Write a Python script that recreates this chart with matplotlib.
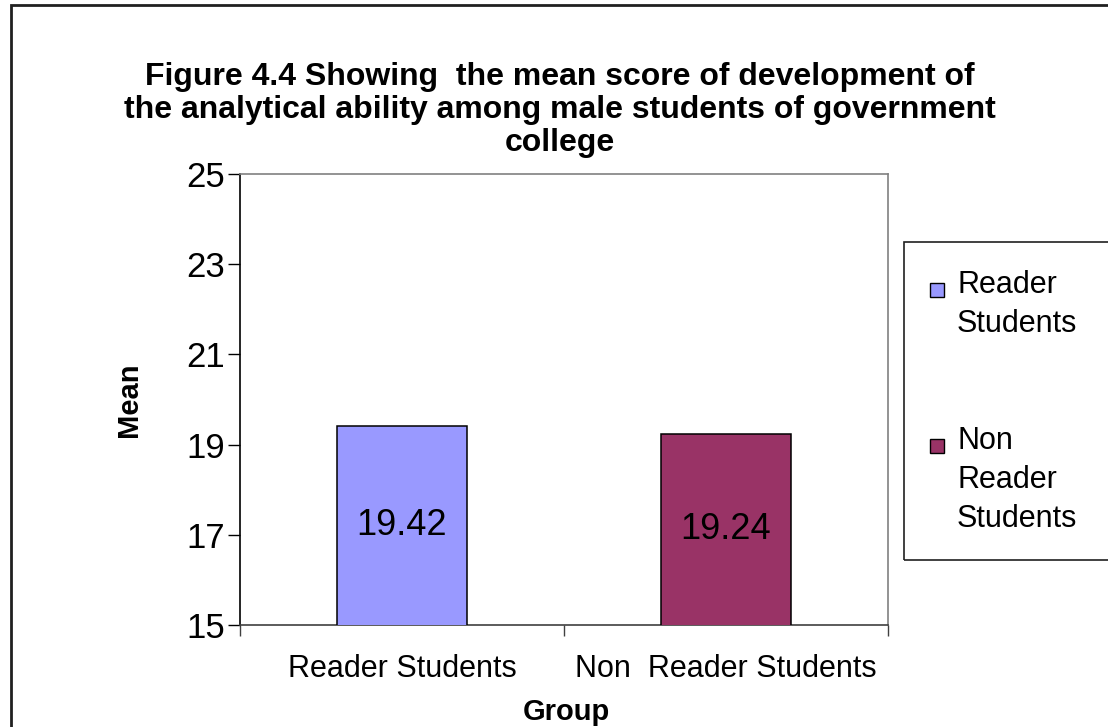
import matplotlib
matplotlib.use('Agg')
import matplotlib.pyplot as plt
from matplotlib.patches import Rectangle
import numpy as np

# mean analytical-ability scores per group
groups = ['Reader Students', 'Non  Reader Students']
legend_labels = ['Reader\nStudents', 'Non\nReader\nStudents']
means = [19.42, 19.24]
bar_colors = ['#9999FF', '#993366']
y_ticks = [15, 17, 19, 21, 23, 25]

title = ('Figure 4.4 Showing  the mean score of development of\n'
         'the analytical ability among male students of government\n'
         'college')

plt.rcParams['font.family'] = ['Liberation Sans', 'DejaVu Sans']

W, H = 1108, 727
fig = plt.figure(figsize=(W / 100, H / 100), dpi=100)


def fx(px):
    return px / W


def fy(py):
    return 1 - py / H


ax = fig.add_axes([fx(240), fy(625), fx(888) - fx(240), fy(174) - fy(625)])
x = np.arange(len(groups))
ax.bar(x, means, width=0.4, color=bar_colors, edgecolor='black', linewidth=1.1, zorder=3)
for xi, m in zip(x, means):
    ax.text(xi, (15 + m) / 2, f'{m:.2f}', ha='center', va='center', fontsize=26, zorder=4)

ax.set_xlim(-0.5, 1.5)
ax.set_ylim(15, 25)
ax.set_yticks(y_ticks)
ax.tick_params(axis='y', labelsize=25, length=9, width=1, direction='out', pad=2)
ax.set_xticks(x)
ax.set_xticklabels(groups, fontsize=22)
ax.tick_params(axis='x', which='major', length=0, pad=21)
ax.set_xticks([-0.5, 0.5, 1.5], minor=True)
ax.tick_params(axis='x', which='minor', length=8, width=1, color='#404040')

ax.spines['left'].set_color('black')
ax.spines['bottom'].set_color('#404040')
for side in ['top', 'right']:
    ax.spines[side].set_color('#808080')
for s in ax.spines.values():
    s.set_linewidth(1.2)

fig.text(fx(560), fy(110), title, ha='center', va='center', fontsize=23,
         fontweight='bold', linespacing=1.13)
fig.text(fx(129), fy(400), 'Mean', rotation=90, ha='center', va='center',
         fontsize=21, fontweight='bold')
fig.text(fx(566), fy(712), 'Group', ha='center', va='center',
         fontsize=21, fontweight='bold')

# outer chart border (right and bottom edges fall off the canvas)
fig.patches.append(Rectangle((fx(11), fy(760)), 1.2, fy(5) - fy(760), fill=False,
                             edgecolor='#202020', linewidth=2, transform=fig.transFigure))

# legend box, partly cut by the right edge
fig.patches.append(Rectangle((fx(904), fy(560)), 0.3, fy(242) - fy(560), fill=False,
                             edgecolor='#202020', linewidth=1.2, transform=fig.transFigure))
entry_tops = [270, 426]
for top, lab, c in zip(entry_tops, legend_labels, bar_colors):
    fig.patches.append(Rectangle((fx(930), fy(top + 27)), fx(14), fy(top + 13) - fy(top + 27),
                                 facecolor=c, edgecolor='black', linewidth=1,
                                 transform=fig.transFigure))
    fig.text(fx(957), fy(top), lab, ha='left', va='top', fontsize=22, linespacing=1.4)

fig.savefig('out.png', dpi=100)
